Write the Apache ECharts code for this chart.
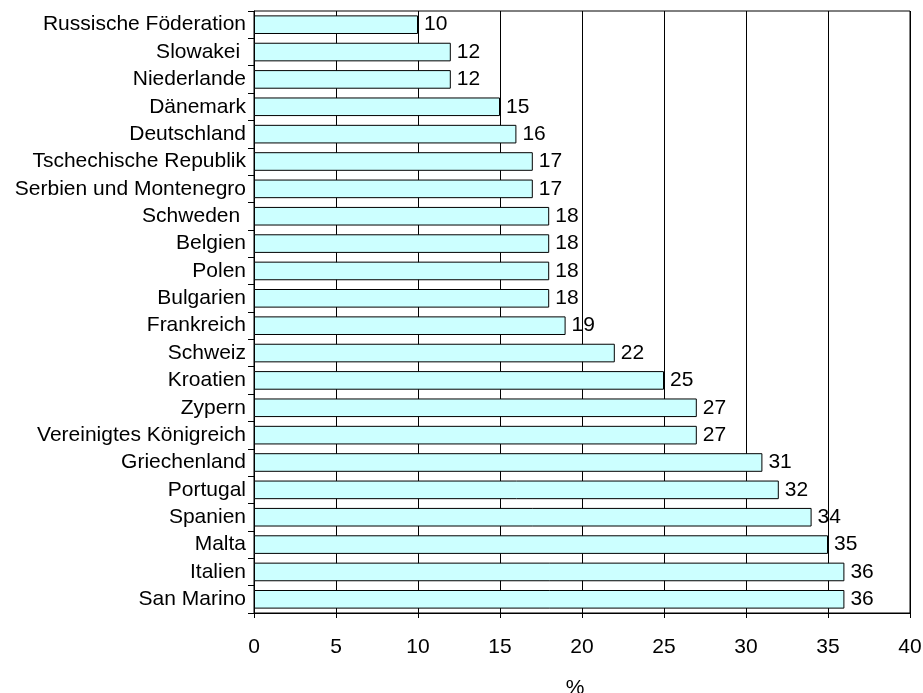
<!DOCTYPE html>
<html>
<head>
<meta charset="utf-8">
<script src="https://cdn.jsdelivr.net/npm/echarts@6/dist/echarts.min.js"></script>
<style>html,body{margin:0;padding:0;background:#fff}#c{width:923px;height:693px}</style>
</head>
<body>
<div id="c"></div>
<script>
const categories = [
  "Russische Föderation", "Slowakei ", "Niederlande", "Dänemark", "Deutschland",
  "Tschechische Republik", "Serbien und Montenegro", "Schweden ", "Belgien", "Polen",
  "Bulgarien", "Frankreich", "Schweiz", "Kroatien", "Zypern",
  "Vereinigtes Königreich", "Griechenland", "Portugal", "Spanien", "Malta",
  "Italien", "San Marino"
];
const values = [10, 12, 12, 15, 16, 17, 17, 18, 18, 18, 18, 19, 22, 25, 27, 27, 31, 32, 34, 35, 36, 36];
const xTicks = { min: 0, max: 40, interval: 5 };
const axisName = "%";

const font = "'Liberation Sans', Arial, sans-serif";
const chart = echarts.init(document.getElementById('c'));
chart.setOption({
  animation: false,
  backgroundColor: '#fff',
  grid: { left: 254, right: 13, top: 11, bottom: 80, show: true, borderColor: '#000', borderWidth: 1, containLabel: false, outerBoundsMode: 'none' },
  xAxis: {
    type: 'value', min: xTicks.min, max: xTicks.max, interval: xTicks.interval,
    name: axisName, nameLocation: 'middle', nameGap: 65,
    nameTextStyle: { color: '#000', fontSize: 21, fontFamily: font, padding: [0, 14, 0, 0] },
    axisLine: { show: true, lineStyle: { color: '#000', width: 1 } },
    axisTick: { show: true, length: 5, lineStyle: { color: '#000' } },
    axisLabel: { color: '#000', fontSize: 21, fontFamily: font, margin: 24 },
    splitLine: { show: true, lineStyle: { color: '#000', width: 1 } }
  },
  yAxis: {
    type: 'category', data: categories, inverse: true,
    axisLine: { show: true, lineStyle: { color: '#000', width: 1 } },
    axisTick: { show: true, length: 6, lineStyle: { color: '#000' } },
    axisLabel: { color: '#000', fontSize: 21, fontFamily: font, margin: 8 },
    splitLine: { show: false }
  },
  series: [{
    type: 'bar', data: values, barCategoryGap: '32%',
    itemStyle: { color: '#CCFFFF', borderColor: '#000', borderWidth: 1 },
    label: { show: true, position: 'right', distance: 6, color: '#000', fontSize: 21, fontFamily: font }
  }]
});
</script>
</body>
</html>
